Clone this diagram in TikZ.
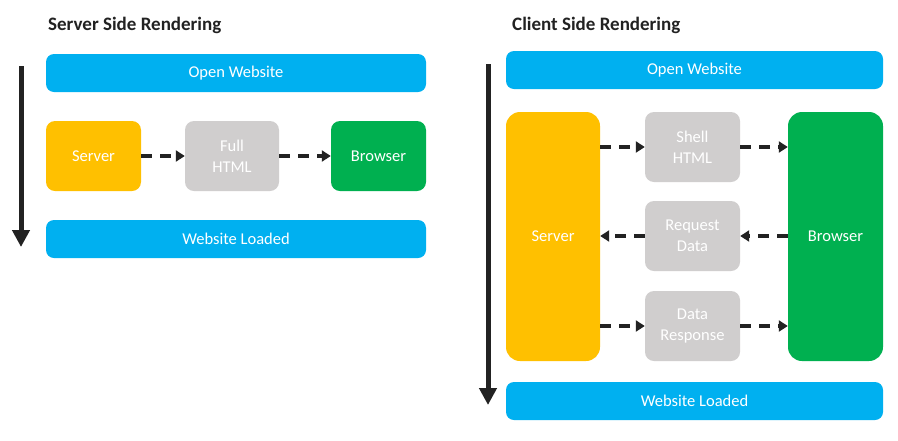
\documentclass[tikz,border=0pt]{standalone}
\usepackage{fontspec}
\setmainfont{Carlito}
\usetikzlibrary{arrows.meta}
\definecolor{cblue}{HTML}{00B0F0}
\definecolor{cyellow}{HTML}{FFC000}
\definecolor{cgray}{HTML}{D0CECE}
\definecolor{cgreen}{HTML}{00B050}
\definecolor{cdark}{HTML}{222222}
\tikzset{
  box/.style={rounded corners=9pt, text=white, font=\fontsize{16.5}{21}\selectfont, align=center, inner sep=0pt, minimum width=94pt, minimum height=70pt},
  bar/.style={box, fill=cblue, rounded corners=8pt, minimum height=38pt},
  title/.style={anchor=west, font=\fontsize{19}{23}\selectfont\bfseries, text=cdark, inner sep=0pt},
  flow/.style={draw=cdark, line width=3.2pt, dash pattern=on 11pt off 8pt, -{Triangle[length=9pt,width=11pt]}},
  timeline/.style={draw=cdark, line width=5pt, -{Triangle[length=17pt,width=17pt]}}
}
\begin{document}
\begin{tikzpicture}[x=1pt,y=-1pt]
\useasboundingbox[fill=white] (0,0) rectangle (898,440);
% Left: Server Side Rendering
\node[title] (lt) at (48,25) {Server Side Rendering};
\node[bar, minimum width=380pt] (lo) at (236,73) {Open Website};
\node[box, fill=cyellow, minimum width=95pt] (ls) at (93.5,156) {Server};
\node[box, fill=cgray] (lf) at (232,156) {Full\\HTML};
\node[box, fill=cgreen, minimum width=95pt] (lb) at (378.5,156) {Browser};
\node[bar, minimum width=380pt] (ll) at (236,239) {Website Loaded};
\draw[flow] (ls.east) -- (lf.west);
\draw[flow] (lf.east) -- (lb.west);
\coordinate (la1) at (21,66);
\coordinate (la2) at (21,247);
\draw[timeline] (la1) -- (la2);
% Right: Client Side Rendering
\node[title] (rt) at (512,25) {Client Side Rendering};
\node[bar, minimum width=377pt] (ro) at (694.5,70) {Open Website};
\node[box, fill=cyellow, minimum height=249pt, rounded corners=14pt] (rs) at (553,236.5) {Server};
\node[box, fill=cgreen, minimum width=95pt, minimum height=249pt, rounded corners=14pt] (rb) at (835.5,236.5) {Browser};
\node[box, fill=cgray, minimum width=95pt] (sh) at (692.5,147) {Shell\\HTML};
\node[box, fill=cgray, minimum width=95pt] (rq) at (692.5,236) {Request\\Data};
\node[box, fill=cgray, minimum width=95pt] (rp) at (692.5,326) {Data\\Response};
\node[bar, minimum width=377pt] (rl) at (694.5,401) {Website Loaded};
\draw[flow] (rs.east |- sh.west) -- (sh.west);
\draw[flow] (sh.east) -- (rb.west |- sh.east);
\draw[flow] (rb.west |- rq.east) -- (rq.east);
\draw[flow] (rq.west) -- (rs.east |- rq.west);
\draw[flow] (rs.east |- rp.west) -- (rp.west);
\draw[flow] (rp.east) -- (rb.west |- rp.east);
\coordinate (ra1) at (488,64);
\coordinate (ra2) at (488,405);
\draw[timeline] (ra1) -- (ra2);
\end{tikzpicture}
\end{document}
